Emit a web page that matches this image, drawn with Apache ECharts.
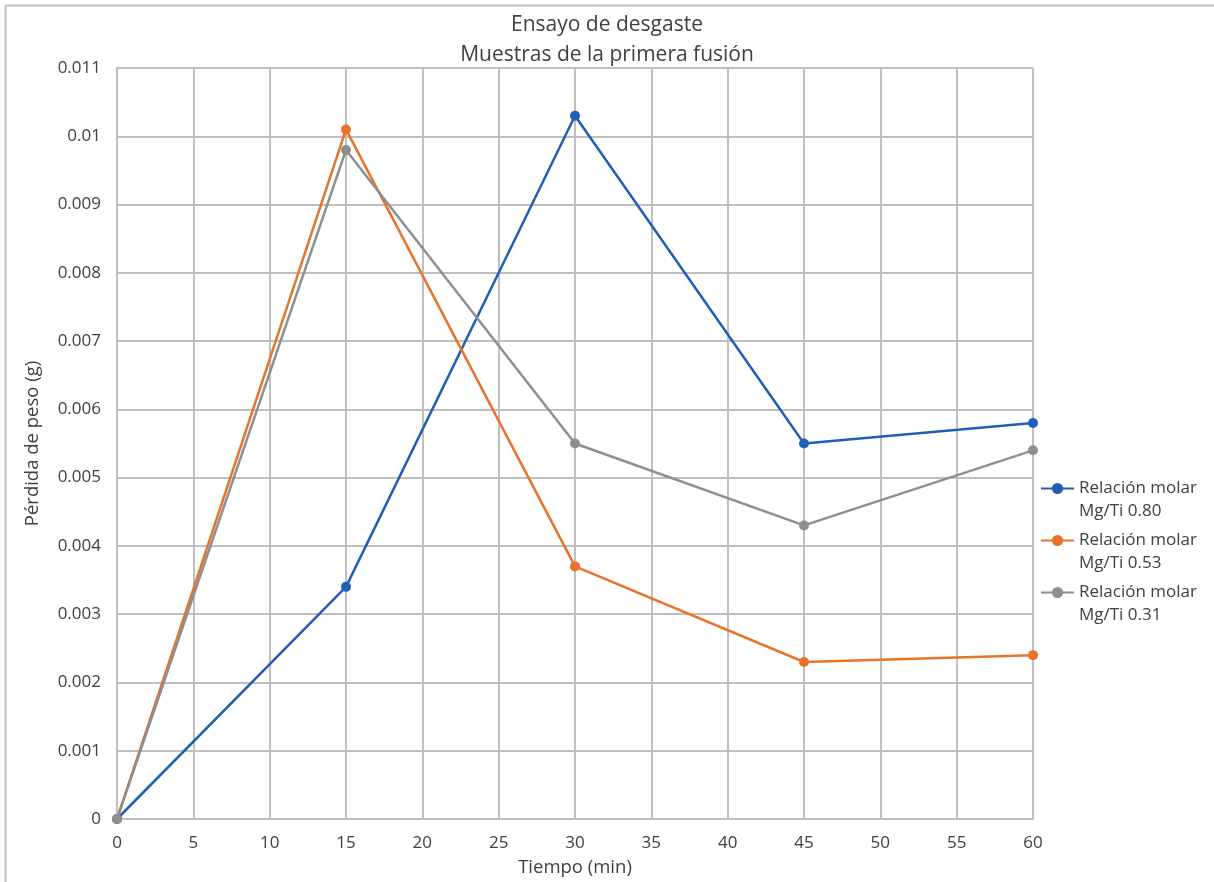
<!DOCTYPE html>
<html>
<head>
<meta charset="utf-8">
<title>Ensayo de desgaste</title>
<script src="https://cdn.jsdelivr.net/npm/echarts@6/dist/echarts.min.js"></script>
<style>
  html, body { margin: 0; padding: 0; background: #fff; }
  #chart { width: 1214px; height: 882px; }
</style>
</head>
<body>
<div id="chart"></div>
<script>
// tiempo (min) y pérdida de peso (g)
var tiempos = [0, 15, 30, 45, 60];
var serie080 = [0, 0.0034, 0.0103, 0.0055, 0.0058];
var serie053 = [0, 0.0101, 0.0037, 0.0023, 0.0024];
var serie031 = [0, 0.0098, 0.0055, 0.0043, 0.0054];
var nombres = ['Relación molar\nMg/Ti 0.80', 'Relación molar\nMg/Ti 0.53', 'Relación molar\nMg/Ti 0.31'];
var colores = ['#1F5FB5', '#E8732A', '#8F8F8F'];

function pares(ys) {
  return tiempos.map(function (t, i) { return [t, ys[i]]; });
}

var myChart = echarts.init(document.getElementById('chart'));
var fuente = 'Open Sans';

function serie(nombre, datos, color) {
  return {
    name: nombre,
    type: 'line',
    data: pares(datos),
    symbol: 'circle',
    symbolSize: 10,
    lineStyle: { color: color, width: 2.5 },
    itemStyle: { color: color },
    emphasis: { disabled: true }
  };
}

var option = {
  animation: false,
  backgroundColor: '#fff',
  color: colores,
  textStyle: { fontFamily: fuente },
  title: {
    text: 'Ensayo de desgaste\nMuestras de la primera fusión',
    left: 'center',
    top: 5,
    textStyle: { fontFamily: fuente, fontSize: 21, fontWeight: 'normal', color: '#404040', lineHeight: 30 }
  },
  graphic: [{
    type: 'rect',
    shape: { x: 5.5, y: 5.5, width: 1300, height: 1000 },
    style: { fill: 'none', stroke: '#BFBFBF', lineWidth: 2 },
    silent: true
  }],
  legend: {
    orient: 'vertical',
    left: 1035,
    top: 449,
    itemWidth: 33,
    itemHeight: 14,
    itemGap: -17,
    // línea en blanco delante para que el icono quede a la altura de la primera línea
    formatter: function (name) { return '\u00a0\n' + name; },
    textStyle: { fontFamily: fuente, fontSize: 17, color: '#404040', lineHeight: 23 },
    data: nombres
  },
  grid: { left: 117, right: 181, top: 68, bottom: 61, containLabel: false },
  xAxis: {
    type: 'value',
    min: 0,
    max: 60,
    interval: 5,
    name: 'Tiempo (min)',
    nameLocation: 'middle',
    nameGap: 39,
    nameTextStyle: { fontFamily: fuente, fontSize: 18.5, color: '#404040' },
    axisLine: { show: true, lineStyle: { color: '#BFBFBF', width: 2 } },
    axisTick: { show: false },
    axisLabel: { fontFamily: fuente, fontSize: 17, color: '#404040', margin: 16 },
    splitLine: { show: true, lineStyle: { color: '#BFBFBF', width: 2 } }
  },
  yAxis: {
    type: 'value',
    min: 0,
    max: 0.011,
    interval: 0.001,
    name: 'Pérdida de peso (g)',
    nameLocation: 'middle',
    nameGap: 75,
    nameTextStyle: { fontFamily: fuente, fontSize: 18.5, color: '#404040' },
    axisLine: { show: true, lineStyle: { color: '#BFBFBF', width: 2 } },
    axisTick: { show: false },
    axisLabel: {
      fontFamily: fuente, fontSize: 17, color: '#404040', margin: 16,
      formatter: function (v) { return String(parseFloat(v.toFixed(3))); }
    },
    splitLine: { show: true, lineStyle: { color: '#BFBFBF', width: 2 } }
  },
  series: [
    serie(nombres[0], serie080, colores[0]),
    serie(nombres[1], serie053, colores[1]),
    serie(nombres[2], serie031, colores[2])
  ]
};

myChart.setOption(option);
</script>
</body>
</html>
